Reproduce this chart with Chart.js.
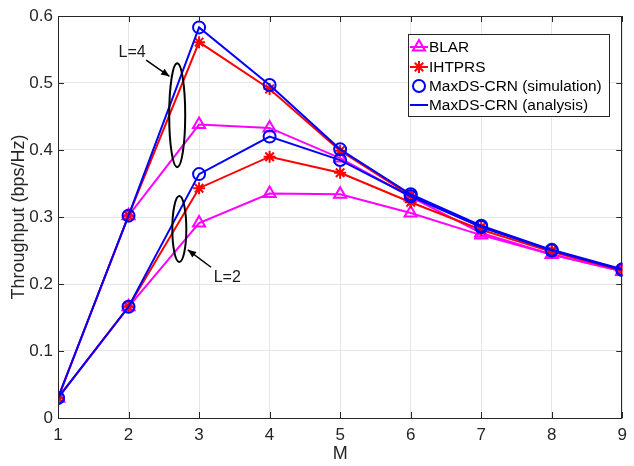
<!DOCTYPE html>
<html>
<head>
<meta charset="utf-8">
<script src="https://cdn.jsdelivr.net/npm/chart.js@4/dist/chart.umd.min.js"></script>
<style>
html,body{margin:0;padding:0;background:#fff;}
#wrap{width:634px;height:466px;position:relative;}
</style>
</head>
<body>
<div id="wrap"><canvas id="c" width="634" height="466"></canvas></div>
<script>
const M = [1, 2, 3, 4, 5, 6, 7, 8, 9];
const yTicks = [0, 0.1, 0.2, 0.3, 0.4, 0.5, 0.6];

// L = 4
const blarL4   = [0.030, 0.302, 0.438, 0.433, 0.388, 0.330, 0.276, 0.244, 0.219];
const ihtprsL4 = [0.030, 0.302, 0.561, 0.491, 0.399, 0.332, 0.285, 0.250, 0.221];
const simL4    = [0.030, 0.302, 0.583, 0.497, 0.401, 0.334, 0.287, 0.251, 0.222];
const anaL4    = [0.030, 0.302, 0.583, 0.497, 0.401, 0.334, 0.287, 0.251, 0.222];
// L = 2
const blarL2   = [0.030, 0.166, 0.291, 0.335, 0.334, 0.306, 0.273, 0.244, 0.219];
const ihtprsL2 = [0.030, 0.166, 0.343, 0.390, 0.366, 0.322, 0.281, 0.248, 0.220];
const simL2    = [0.030, 0.166, 0.364, 0.420, 0.385, 0.331, 0.285, 0.250, 0.221];
const anaL2    = [0.030, 0.166, 0.364, 0.420, 0.385, 0.331, 0.285, 0.250, 0.221];

const legendNames = ['BLAR', 'IHTPRS', 'MaxDS-CRN (simulation)', 'MaxDS-CRN (analysis)'];

const MAG = '#ff00ff', RED = '#ff0000', BLUE = '#0000ff';
const FONT = '"Liberation Sans", Arial, Helvetica, sans-serif';

function pts(arr){ return arr.map((v,i)=>({x:M[i], y:v})); }

function blar(arr){ return {label:legendNames[0], data:pts(arr), borderColor:MAG, backgroundColor:'rgba(0,0,0,0)',
  pointStyle:'triangle', pointRadius:7, pointBorderWidth:2, borderWidth:2, pointBackgroundColor:'rgba(0,0,0,0)', pointBorderColor:MAG, order:3}; }
function iht(arr){ return {label:legendNames[1], data:pts(arr), borderColor:RED, backgroundColor:'rgba(0,0,0,0)',
  pointStyle:'star', pointRadius:6, pointBorderWidth:2, borderWidth:2, pointBorderColor:RED, order:2}; }
function sim(arr){ return {label:legendNames[2], data:pts(arr), borderColor:BLUE, backgroundColor:'rgba(0,0,0,0)', showLine:false,
  pointStyle:'circle', pointRadius:6, pointBorderWidth:2, pointBackgroundColor:'rgba(0,0,0,0)', pointBorderColor:BLUE, order:1}; }
function ana(arr){ return {label:legendNames[3], data:pts(arr), borderColor:BLUE, backgroundColor:'rgba(0,0,0,0)',
  pointRadius:0, borderWidth:2, order:0}; }

const datasets = [blar(blarL4), iht(ihtprsL4), sim(simL4), ana(anaL4), blar(blarL2), iht(ihtprsL2), sim(simL2), ana(anaL2)];

const decor = {
  id:'decor',
  afterDatasetsDraw(chart){
    const ctx = chart.ctx, xs = chart.scales.x, ys = chart.scales.y, a = chart.chartArea;
    ctx.save();
    // box
    ctx.strokeStyle = '#262626'; ctx.lineWidth = 1;
    ctx.strokeRect(Math.round(a.left)+0.5, Math.round(a.top)+0.5, Math.round(a.right-a.left)-1, Math.round(a.bottom-a.top));
    // inner ticks
    ctx.beginPath();
    M.forEach(m=>{ const x = Math.round(xs.getPixelForValue(m))+0.5;
      ctx.moveTo(x, a.bottom); ctx.lineTo(x, a.bottom-6);
      ctx.moveTo(x, a.top); ctx.lineTo(x, a.top+6); });
    yTicks.forEach(v=>{ const y = Math.round(ys.getPixelForValue(v))+0.5;
      ctx.moveTo(a.left, y); ctx.lineTo(a.left+6, y);
      ctx.moveTo(a.right, y); ctx.lineTo(a.right-6, y); });
    ctx.stroke();

    // annotations
    ctx.strokeStyle = '#000'; ctx.fillStyle = '#000'; ctx.lineWidth = 2;
    function ell(mx, vy, rx, ry){ ctx.beginPath(); ctx.ellipse(xs.getPixelForValue(mx), ys.getPixelForValue(vy), rx, ry, 0, 0, Math.PI*2); ctx.stroke(); }
    function arrow(m1,v1,m2,v2){
      const x1=xs.getPixelForValue(m1), y1=ys.getPixelForValue(v1), x2=xs.getPixelForValue(m2), y2=ys.getPixelForValue(v2);
      ctx.lineWidth = 1.5;
      ctx.beginPath(); ctx.moveTo(x1,y1); ctx.lineTo(x2,y2); ctx.stroke();
      const ang = Math.atan2(y2-y1, x2-x1), L=9, w=0.4;
      ctx.beginPath(); ctx.moveTo(x2,y2);
      ctx.lineTo(x2-L*Math.cos(ang-w), y2-L*Math.sin(ang-w));
      ctx.lineTo(x2-L*Math.cos(ang+w), y2-L*Math.sin(ang+w)); ctx.closePath(); ctx.fill();
      ctx.lineWidth = 2;
    }
    ell(2.69, 0.452, 8, 52);
    ell(2.72, 0.282, 7, 33);
    arrow(2.25, 0.534, 2.58, 0.510);
    arrow(3.17, 0.225, 2.84, 0.251);
    ctx.font = '16px ' + FONT; ctx.textAlign = 'center'; ctx.textBaseline = 'middle';
    ctx.fillStyle = '#1a1a1a';
    ctx.fillText('L=4', xs.getPixelForValue(2.05), ys.getPixelForValue(0.546));
    ctx.fillText('L=2', xs.getPixelForValue(3.40), ys.getPixelForValue(0.210));

    // legend
    const bx = 408.5, by = 34.5, bw = 201, bh = 82;
    ctx.fillStyle = '#fff'; ctx.fillRect(bx, by, bw, bh);
    ctx.strokeStyle = '#262626'; ctx.lineWidth = 1; ctx.strokeRect(bx, by, bw, bh);
    const rows = [47, 67, 86, 105];
    ctx.textAlign = 'left'; ctx.textBaseline = 'middle'; ctx.font = '15.4px ' + FONT;
    const styles = [
      {c:MAG, line:true, mk:'triangle', r:7},
      {c:RED, line:true, mk:'star', r:6},
      {c:BLUE, line:false, mk:'circle', r:6},
      {c:BLUE, line:true, mk:null, r:0}
    ];
    styles.forEach((s,i)=>{
      const y = rows[i], cx = 419;
      ctx.strokeStyle = s.c; ctx.lineWidth = 2;
      if (s.line){ ctx.beginPath(); ctx.moveTo(410, y); ctx.lineTo(428, y); ctx.stroke(); }
      if (s.mk){
        ctx.fillStyle = 'rgba(0,0,0,0)';
        Chart.helpers.drawPoint(ctx, {pointStyle:s.mk, radius:s.r, borderWidth:2, rotation:0}, cx, y);
      }
      ctx.fillStyle = '#000';
      ctx.fillText(legendNames[i], 429, y+1);
    });
    ctx.restore();
  }
};

new Chart(document.getElementById('c'), {
  type:'line',
  data:{ datasets },
  options:{
    responsive:false, animation:false, devicePixelRatio:1,
    layout:{ padding:{ top:16, right:7, left:0, bottom:0 } },
    plugins:{ legend:{display:false}, tooltip:{enabled:false} },
    elements:{ line:{ tension:0 } },
    scales:{
      x:{ type:'linear', min:1, max:9,
        afterBuildTicks(s){ s.ticks = M.map(v=>({value:v})); },
        afterFit(s){ s.height = 48; },
        grid:{ color:'#e6e6e6', drawTicks:false, lineWidth:1 },
        border:{ display:false },
        ticks:{ color:'#262626', font:{family:FONT, size:17}, padding:7, maxRotation:0,
          callback:(v)=>String(v) },
        title:{ display:true, text:'M', color:'#262626', font:{family:FONT, size:18}, padding:{top:0, bottom:1} }
      },
      y:{ min:0, max:0.6,
        afterBuildTicks(s){ s.ticks = yTicks.map(v=>({value:v})); },
        afterFit(s){ s.width = 58; },
        grid:{ color:'#e6e6e6', drawTicks:false, lineWidth:1 },
        border:{ display:false },
        ticks:{ color:'#262626', font:{family:FONT, size:17}, padding:5,
          callback:(v)=>String(Math.round(v*10)/10) },
        title:{ display:true, text:'Throughput (bps/Hz)', color:'#262626', font:{family:FONT, size:18}, padding:{top:8,bottom:0} }
      }
    }
  },
  plugins:[decor]
});
</script>
</body>
</html>
